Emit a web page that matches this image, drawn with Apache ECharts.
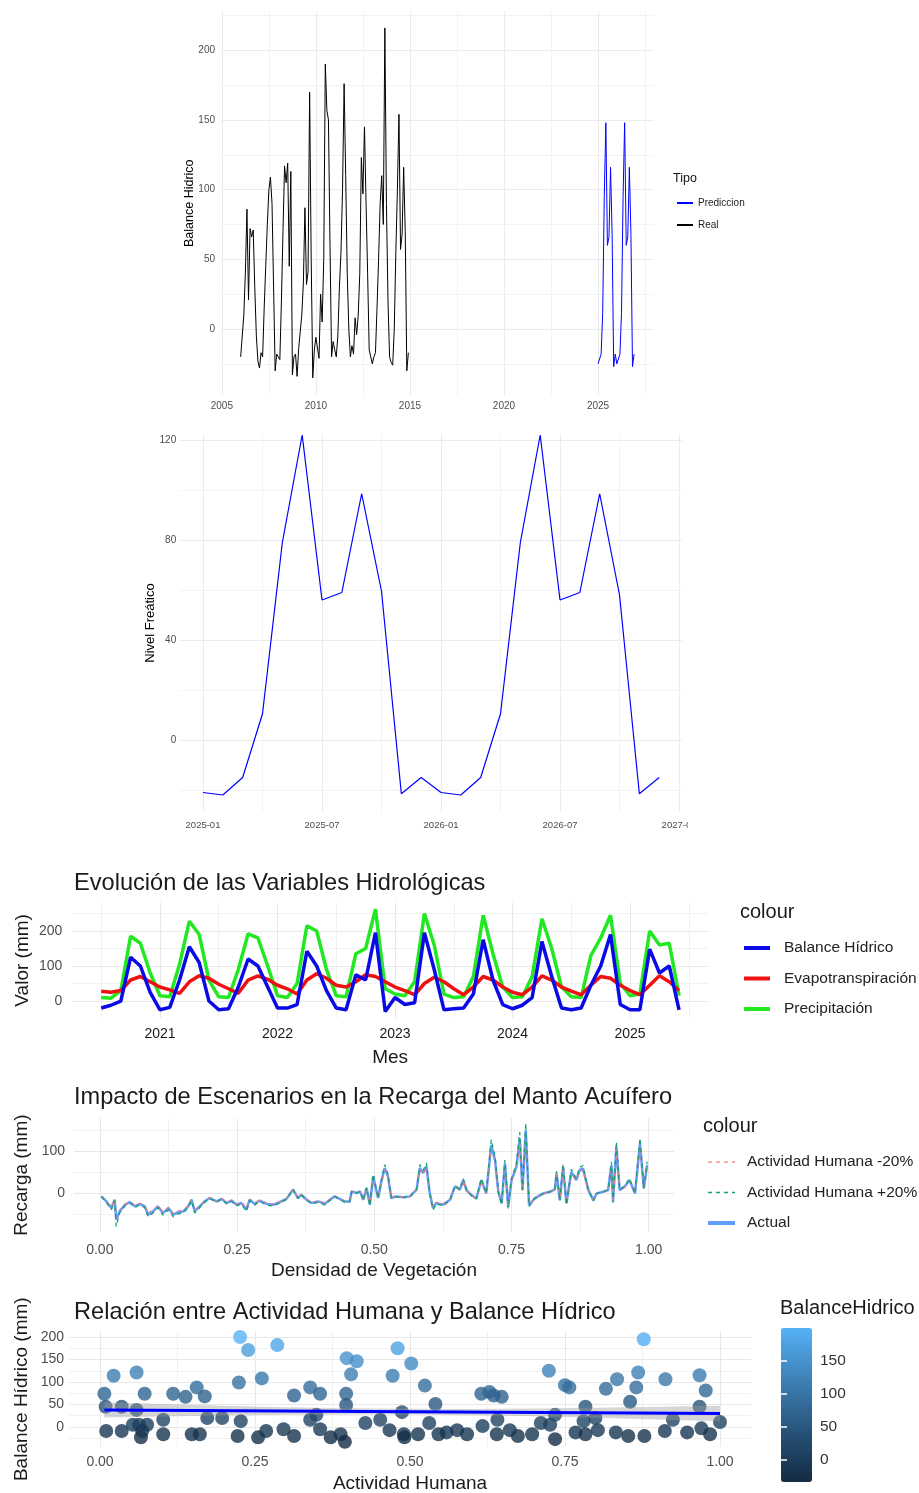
<!DOCTYPE html>
<html>
<head>
<meta charset="utf-8">
<script src="https://cdn.jsdelivr.net/npm/echarts@6/dist/echarts.min.js"></script>
<style>
  html, body { margin: 0; padding: 0; background: #fff; }
  #page { position: relative; width: 919px; height: 1493px; overflow: hidden; }
  .panel { position: absolute; left: 0; }
</style>
</head>
<body>
<div id="page">
  <div id="c1" class="panel" style="top:0;width:919px;height:420px"></div>
  <div id="c2" class="panel" style="top:420px;width:688px;height:420px"></div>
  <div id="c3" class="panel" style="top:840px;width:919px;height:235px"></div>
  <div id="c4" class="panel" style="top:1075px;width:919px;height:210px"></div>
  <div id="c5" class="panel" style="top:1285px;width:919px;height:208px"></div>
</div>
<script>
// ---------------- Datos ----------------

// Balance hídrico observado, mensual desde enero de 2006
const realInicio = 2006;
const balanceReal = [
  -20, -21, 10, 40, 86, 21, 72, 66, 71, 30, -5, -23,
  -28, -17, -20, 15, 45, 75, 100, 109, 90, 30, -30, -18,
  -20, -22, 20, 70, 117, 105, 119, 45, 113, -33, -20, -18,
  -34, -14, -15, 10, 33, 87, 32, 41, 170, 50, -35, -15,
  -6, -5, -21, 25, 5, 50, 190, 157, 150, 60, -20, -9,
  -15, -20, -5, 30, 55, 100, 176, 110, 40, 0, -20, -12,
  -18, 8, -4, 10, 40, 123, 97, 145, 90, 40, -15, -20,
  -25, -20, -17, 15, 50, 90, 110, 75, 216, 90, 20, -20,
  -24, -26, 0, 55, 100, 154, 57, 68, 116, 70, -30, -17
];
// Balance hídrico predicho, mensual desde enero de 2025
const predInicio = 2025;
const balancePred = [
  -25, -25, -18, 12, 95, 148, 60, 66, 116, 68, -27, -18,
  -25, -25, -18, 12, 95, 148, 60, 66, 116, 68, -27, -18
];
const ticksAnio = [2005, 2010, 2015, 2020, 2025];
const ticksAnioMenor = [2007.5, 2012.5, 2017.5, 2022.5, 2027.5];
const ticksBalance = [0, 50, 100, 150, 200];
const ticksBalanceMenor = [-25, 25, 75, 125, 175, 225];

// Nivel freático predicho, mensual 2025-01 .. 2026-12
const nivelFreatico = [
  -21, -22, -15, 10.5, 79, 122, 56, 59, 98.5, 59.5, -21.5, -15,
  -21, -22, -15, 10.5, 79, 122, 56, 59, 98.5, 58, -21.5, -15
];
const ticksMes = [0, 6, 12, 18, 24];
const ticksMesMenor = [3, 9, 15, 21];
const ticksNivel = [0, 40, 80, 120];
const ticksNivelMenor = [-20, 20, 60, 100];

// Variables hidrológicas mensuales desde julio de 2020
const evolInicio = 2020.5;
const precipitacion = [
  10, 8, 30, 185, 165, 80, 15, 12, 105, 228,
  190, 60, 12, 10, 90, 192, 180, 100, 15, 10,
  50, 215, 200, 90, 15, 12, 135, 150, 262, 35,
  20, 15, 55, 250, 160, 20, 10, 12, 70, 245,
  135, 40, 10, 12, 70, 235, 150, 40, 12, 10,
  130, 180, 245, 50, 15, 20, 200, 160, 165, 15
];
const balanceHidrico = [
  -20, -12, 0, 125, 100, 25, -25, -18, 60, 155,
  110, 0, -25, -22, 40, 120, 100, 40, -20, -20,
  -10, 142, 100, 30, -20, -25, 75, 60, 195, -30,
  10, -10, -5, 195, 90, -25, -22, -20, 20, 175,
  60, -10, -22, -12, 10, 170, 70, -20, -25, -20,
  45, 100, 190, -10, -25, -25, 148, 80, 100, -25
];
const evapotranspiracion = [
  28, 25, 30, 60, 70, 55, 40, 32, 22, 55,
  72, 65, 48, 35, 22, 60, 72, 62, 45, 35,
  20, 60, 78, 65, 45, 40, 55, 75, 70, 55,
  40, 30, 18, 50, 68, 55, 35, 18, 40, 70,
  60, 40, 25, 18, 40, 72, 60, 40, 28, 18,
  45, 70, 65, 45, 30, 18, 45, 72, 55, 30
];
const ticksEvolX = [2021, 2022, 2023, 2024, 2025];
const ticksEvolXMenor = [2020.5, 2021.5, 2022.5, 2023.5, 2024.5, 2025.5];
const ticksValor = [0, 100, 200];
const ticksValorMenor = [50, 150, 250];

// Recarga según densidad de vegetación y escenarios
const densidadVeg = [
  0.003, 0.012, 0.021, 0.027, 0.030, 0.036, 0.046, 0.055, 0.064, 0.073,
  0.082, 0.088, 0.097, 0.106, 0.115, 0.125, 0.134, 0.143, 0.152, 0.161,
  0.167, 0.173, 0.182, 0.191, 0.200, 0.213, 0.222, 0.231, 0.240, 0.249,
  0.258, 0.267, 0.273, 0.282, 0.291, 0.304, 0.316, 0.328, 0.340, 0.352,
  0.361, 0.367, 0.377, 0.386, 0.398, 0.410, 0.419, 0.428, 0.437, 0.446,
  0.455, 0.459, 0.468, 0.474, 0.480, 0.486, 0.492, 0.498, 0.507, 0.513,
  0.519, 0.525, 0.531, 0.540, 0.553, 0.565, 0.577, 0.583, 0.589, 0.595,
  0.601, 0.607, 0.613, 0.625, 0.638, 0.647, 0.656, 0.662, 0.668, 0.677,
  0.686, 0.695, 0.704, 0.713, 0.720, 0.726, 0.732, 0.738, 0.744, 0.750,
  0.759, 0.765, 0.770, 0.776, 0.782, 0.792, 0.808, 0.820, 0.829, 0.832,
  0.838, 0.844, 0.850, 0.859, 0.868, 0.874, 0.880, 0.890, 0.899, 0.905,
  0.917, 0.926, 0.932, 0.935, 0.941, 0.947, 0.956, 0.965, 0.975, 0.984,
  0.991, 0.997
];
const recargaActual = [
  -8, -20, -36, -16, -64, -44, -28, -22, -32, -26,
  -32, -52, -44, -32, -48, -36, -52, -46, -44, -32,
  -16, -44, -32, -20, -12, -20, -14, -24, -18, -28,
  -24, -40, -16, -26, -18, -26, -28, -22, -14, 8,
  -12, -4, -16, -24, -20, -26, -16, -8, -14, -20,
  -20, 4, 0, 4, -16, 12, -28, 40, -12, 28,
  60, 40, -12, -8, -10, -8, 8, 60, 48, 64,
  0, -36, -24, -28, -16, 16, 8, 31, 7, -5,
  -13, 31, -1, 115, 79, 3, -25, 71, -33, 31,
  63, 131, 7, 150, -29, -13, -1, 3, 9, 47,
  -17, 63, -25, 51, 31, 55, 59, 7, -17, -1,
  3, 7, 67, -21, 111, 7, 15, 31, -1, 119,
  11, 67
];
const recargaMenos20 = [
  -8, -19, -34, -15, -58, -42, -27, -21, -30, -25,
  -30, -48, -41, -30, -45, -34, -49, -43, -41, -30,
  -15, -41, -30, -19, -11, -19, -13, -22, -17, -26,
  -22, -37, -15, -24, -17, -24, -26, -20, -13, 8,
  -11, -4, -15, -22, -19, -24, -15, -8, -13, -19,
  -19, 4, 0, 4, -15, 11, -26, 37, -11, 26,
  56, 37, -11, -8, -9, -8, 7, 56, 45, 60,
  0, -33, -22, -26, -15, 15, 7, 29, 6, -5,
  -12, 29, -1, 107, 73, 3, -23, 66, -31, 29,
  59, 122, 6, 140, -27, -12, -1, 3, 8, 44,
  -16, 59, -23, 47, 29, 51, 55, 6, -16, -1,
  3, 6, 62, -20, 103, 6, 14, 29, -1, 111,
  10, 62
];
const recargaMas20 = [
  -9, -22, -40, -18, -80, -48, -30, -24, -35, -28,
  -35, -57, -48, -35, -53, -40, -57, -50, -48, -35,
  -18, -48, -35, -22, -13, -22, -15, -26, -20, -31,
  -26, -44, -18, -29, -20, -29, -31, -24, -15, 9,
  -13, -4, -18, -26, -22, -29, -18, -9, -15, -22,
  -22, 4, 0, 4, -18, 13, -31, 45, -13, 31,
  68, 45, -13, -9, -11, -9, 9, 68, 54, 72,
  0, -40, -26, -31, -18, 18, 9, 35, 8, -6,
  -14, 35, -1, 128, 88, 3, -28, 79, -37, 35,
  70, 146, 8, 167, -32, -14, -1, 3, 10, 52,
  -19, 70, -28, 57, 35, 61, 66, 8, -19, -1,
  3, 8, 75, -23, 123, 8, 17, 35, -1, 132,
  12, 75
];
const ticksFrac = [0, 0.25, 0.5, 0.75, 1];
const ticksFracMenor = [0.125, 0.375, 0.625, 0.875];
const ticksRecarga = [0, 100];
const ticksRecargaMenor = [-50, 50, 150];

// Actividad humana frente a balance hídrico
const actividadHumana = [
  0.007, 0.009, 0.010, 0.022, 0.035, 0.035, 0.053, 0.059, 0.059, 0.063,
  0.066, 0.072, 0.076, 0.068, 0.102, 0.102, 0.118, 0.138, 0.148, 0.161,
  0.156, 0.169, 0.173, 0.197, 0.224, 0.226, 0.239, 0.227, 0.222, 0.255,
  0.268, 0.261, 0.286, 0.296, 0.313, 0.313, 0.339, 0.355, 0.339, 0.349,
  0.355, 0.372, 0.388, 0.395, 0.397, 0.397, 0.398, 0.405, 0.414, 0.428,
  0.452, 0.467, 0.472, 0.480, 0.487, 0.490, 0.491, 0.502, 0.513, 0.524,
  0.531, 0.541, 0.546, 0.559, 0.576, 0.592, 0.615, 0.617, 0.628, 0.635,
  0.648, 0.640, 0.641, 0.661, 0.674, 0.697, 0.711, 0.724, 0.726, 0.734,
  0.734, 0.750, 0.757, 0.767, 0.780, 0.783, 0.783, 0.799, 0.803, 0.816,
  0.832, 0.834, 0.852, 0.855, 0.865, 0.868, 0.877, 0.878, 0.911, 0.912,
  0.924, 0.947, 0.967, 0.967, 0.970, 0.977, 0.984, 1.000
];
const balanceActividad = [
  74, 45, -9, 114, 45, -9, 5, 121, 38, 5,
  -23, 74, 5, -9, 16, -16, 74, 67, -16, -16,
  88, 68, 20, 20, 99, 200, 171, 13, -20, -23,
  -9, 108, 182, -5, -20, 70, 88, 74, 16, 27,
  -5, -23, -16, -33, 74, 49, 153, 117, 146, 9,
  16, -7, 114, 175, 33, -16, -23, 141, -16, 92,
  9, 51, -16, -12, -7, -16, 74, 2, 78, 70,
  67, -16, 16, -7, -20, -16, 9, 125, 5, 27,
  -27, 93, 88, -12, 13, 45, -16, 20, -7, 85,
  -12, 106, -20, 56, 88, 121, 195, -20, -9, 106,
  16, -12, 115, 45, -3, 81, -16, 11
];
// Ajuste lineal y su banda de confianza
const ajusteX = [0.007, 1.0];
const ajusteY = [38, 30];
const bandaX = [0.007, 0.1, 0.2, 0.3, 0.4, 0.5, 0.6, 0.7, 0.8, 0.9, 1.0];
const bandaInf = [20.9, 23.2, 25.4, 27.1, 27.8, 27.5, 26.2, 23.9, 20.6, 16.8, 13.0];
const bandaSup = [54.9, 51.2, 47.4, 44.1, 41.8, 40.5, 40.2, 40.9, 42.6, 44.8, 47.0];
const ticksBal5 = [0, 50, 100, 150, 200];
const ticksBal5Menor = [-25, 25, 75, 125, 175];
const ticksColorbar = [0, 50, 100, 150];

// ---------------- Estilo común ----------------
const FONT = '"Liberation Sans", Arial, sans-serif';
const LABEL_GREY = '#4D4D4D';

function pares(xs, ys) { return xs.map((x, i) => [x, ys[i]]); }
function mensual(inicio, ys) { return ys.map((y, i) => [inicio + i / 12, y]); }

// Eje principal (etiquetas + rejilla mayor) y eje secundario (rejilla menor)
function ejes(o) {
  const base = {
    type: 'value', min: o.min, max: o.max, gridIndex: o.grid || 0,
    axisLine: { show: false }
  };
  const mayor = Object.assign({}, base, {
    position: o.position,
    axisTick: { show: false, customValues: o.major },
    axisLabel: {
      customValues: o.major, formatter: o.fmt || (v => String(v)),
      fontSize: o.size, color: o.color || LABEL_GREY, margin: o.margin, fontFamily: FONT
    },
    splitLine: { show: true, lineStyle: { color: o.gridColor || '#EBEBEB', width: 1 } },
    name: o.name, nameLocation: 'middle', nameGap: o.nameGap, nameMoveOverlap: false,
    nameTextStyle: { fontSize: o.nameSize, color: o.nameColor || '#000', fontFamily: FONT }
  });
  const menor = Object.assign({}, base, {
    position: o.position,
    axisTick: { show: false, customValues: o.minor },
    axisLabel: { show: false },
    splitLine: { show: true, lineStyle: { color: o.minorColor || '#F3F3F3', width: 1 } }
  });
  return [mayor, menor];
}

function grid(left, top, right, bottom, divTop) {
  return { left: left, top: top - divTop, width: right - left, height: bottom - top,
           containLabel: false, outerBoundsMode: 'none' };
}

function linea(name, data, color, width, extra) {
  return Object.assign({
    name: name, type: 'line', data: data, symbol: 'none', showSymbol: false,
    color: color, lineStyle: { color: color, width: width }, z: 3
  }, extra || {});
}

// Leyenda de líneas: solo el trazo, sin marcador
function leyenda(o) {
  return Object.assign({
    orient: 'vertical', padding: 0, itemStyle: { opacity: 0 }
  }, o);
}

// ---------------- Panel 1: balance hídrico real y predicción ----------------
const c1 = echarts.init(document.getElementById('c1'));
c1.setOption({
  animation: false,
  textStyle: { fontFamily: FONT },
  title: [{ text: 'Tipo', left: 673, top: 172, padding: 0,
            textStyle: { fontSize: 12.5, fontWeight: 'normal', color: '#111', fontFamily: FONT } }],
  legend: leyenda({
    data: ['Prediccion', 'Real'], left: 676, top: 198,
    itemWidth: 16, itemHeight: 12, itemGap: 12,
    textStyle: { fontSize: 10, color: '#222', fontFamily: FONT }
  }),
  grid: grid(221, 11.2, 653.7, 395.2, 0),
  xAxis: ejes({ min: 2004.954, max: 2027.961, major: ticksAnio, minor: ticksAnioMenor,
                position: 'bottom', fmt: v => String(Math.round(v)), size: 10, margin: 6 }),
  yAxis: ejes({ min: -47.5, max: 228, major: ticksBalance, minor: ticksBalanceMenor,
                position: 'left', size: 10, margin: 6,
                name: 'Balance Hidrico', nameGap: 25, nameSize: 12.5 }),
  series: [
    linea('Prediccion', mensual(predInicio, balancePred), '#0000FF', 1),
    linea('Real', mensual(realInicio, balanceReal), '#000000', 1)
  ]
});

// ---------------- Panel 2: nivel freático ----------------
const etiquetaMes = m => {
  const y = 2025 + Math.floor(m / 12);
  const mm = (m % 12) + 1;
  return y + '-' + (mm < 10 ? '0' + mm : mm);
};
const c2 = echarts.init(document.getElementById('c2'));
c2.setOption({
  animation: false,
  textStyle: { fontFamily: FONT },
  grid: grid(180.2, 434, 682, 812, 420),
  xAxis: ejes({ min: -1.15, max: 24.15, major: ticksMes, minor: ticksMesMenor,
                position: 'bottom', fmt: etiquetaMes, size: 9.5, margin: 8 }),
  yAxis: ejes({ min: -28.8, max: 122.4, major: ticksNivel, minor: ticksNivelMenor,
                position: 'left', size: 10, margin: 4,
                name: 'Nivel Freático', nameGap: 23.5, nameSize: 13 }),
  series: [
    linea('Nivel', nivelFreatico.map((v, i) => [i, v]), '#0000FF', 1.2)
  ]
});

// ---------------- Panel 3: evolución de variables hidrológicas ----------------
const c3 = echarts.init(document.getElementById('c3'));
c3.setOption({
  animation: false,
  textStyle: { fontFamily: FONT },
  title: [
    { text: 'Evolución de las Variables Hidrológicas', left: 74, top: 31, padding: 0,
      textStyle: { fontSize: 23.6, fontWeight: 'normal', color: '#1A1A1A', fontFamily: FONT } },
    { text: 'colour', left: 740, top: 62, padding: 0,
      textStyle: { fontSize: 20, fontWeight: 'normal', color: '#1A1A1A', fontFamily: FONT } }
  ],
  legend: leyenda({
    data: [
      { name: 'Balance Hídrico', lineStyle: { width: 4 } },
      { name: 'Evapotranspiración', lineStyle: { width: 4 } },
      { name: 'Precipitación', lineStyle: { width: 4 } }
    ],
    left: 742, top: 100, itemWidth: 26, itemHeight: 20, itemGap: 14.5,
    lineStyle: { width: 4 },
    textStyle: { fontSize: 15.5, color: '#222', fontFamily: FONT, padding: [0, 0, 0, 9] }
  }),
  grid: grid(72.3, 902.6, 708, 1018.2, 840),
  xAxis: ejes({ min: 2020.254, max: 2025.663, major: ticksEvolX, minor: ticksEvolXMenor,
                position: 'bottom', fmt: v => String(Math.round(v)), size: 14, color: '#1A1A1A',
                margin: 9, name: 'Mes', nameGap: 30, nameSize: 19, nameColor: '#1A1A1A',
                gridColor: '#E8E8E8', minorColor: '#F1F1F1' }),
  yAxis: ejes({ min: -49, max: 281, major: ticksValor, minor: ticksValorMenor,
                position: 'left', size: 14, margin: 10,
                name: 'Valor (mm)', nameGap: 40.5, nameSize: 19, nameColor: '#1A1A1A',
                gridColor: '#E8E8E8', minorColor: '#F1F1F1' }),
  series: [
    linea('Precipitación', mensual(evolInicio, precipitacion), '#22E822', 3.5),
    linea('Evapotranspiración', mensual(evolInicio, evapotranspiracion), '#EE1111', 3.5),
    linea('Balance Hídrico', mensual(evolInicio, balanceHidrico), '#0A0AE6', 3.5)
  ]
});

// ---------------- Panel 4: recarga del manto acuífero ----------------
const c4 = echarts.init(document.getElementById('c4'));
c4.setOption({
  animation: false,
  textStyle: { fontFamily: FONT },
  title: [
    { text: 'Impacto de Escenarios en la Recarga del Manto Acuífero', left: 74, top: 10, padding: 0,
      textStyle: { fontSize: 23.6, fontWeight: 'normal', color: '#1A1A1A', fontFamily: FONT } },
    { text: 'colour', left: 703, top: 41, padding: 0,
      textStyle: { fontSize: 20, fontWeight: 'normal', color: '#1A1A1A', fontFamily: FONT } }
  ],
  legend: leyenda({
    data: [
      { name: 'Actividad Humana -20%', lineStyle: { width: 1.5 } },
      { name: 'Actividad Humana +20%', lineStyle: { width: 1.5 } },
      { name: 'Actual', lineStyle: { width: 4 } }
    ],
    left: 706, top: 79, itemWidth: 27, itemHeight: 20, itemGap: 14.5,
    textStyle: { fontSize: 15.5, color: '#222', fontFamily: FONT, padding: [0, 0, 0, 7] }
  }),
  grid: grid(74, 1118.2, 674, 1232, 1075),
  xAxis: ejes({ min: -0.047, max: 1.046, major: ticksFrac, minor: ticksFracMenor,
                position: 'bottom', fmt: v => v.toFixed(2), size: 14, margin: 11,
                name: 'Densidad de Vegetación', nameGap: 29.5, nameSize: 19, nameColor: '#1A1A1A',
                gridColor: '#E8E8E8', minorColor: '#F1F1F1' }),
  yAxis: ejes({ min: -93.4, max: 179.4, major: ticksRecarga, minor: ticksRecargaMenor,
                position: 'left', size: 14, margin: 9,
                name: 'Recarga (mm)', nameGap: 42.5, nameSize: 19, nameColor: '#1A1A1A',
                gridColor: '#E8E8E8', minorColor: '#F1F1F1' }),
  series: [
    linea('Actual', pares(densidadVeg, recargaActual), '#619CFF', 2.5),
    linea('Actividad Humana -20%', pares(densidadVeg, recargaMenos20), '#F8766D', 1.3,
          { lineStyle: { color: '#F8766D', width: 1.3, type: [4, 4], opacity: 0.8 } }),
    linea('Actividad Humana +20%', pares(densidadVeg, recargaMas20), '#00BA38', 1.3,
          { lineStyle: { color: '#14A06A', width: 1.3, type: [4, 4] } })
  ]
});

// ---------------- Panel 5: actividad humana vs balance hídrico ----------------
const c5 = echarts.init(document.getElementById('c5'));
const ejesP5x = ejes({ min: -0.05, max: 1.05, major: ticksFrac, minor: ticksFracMenor,
                position: 'bottom', fmt: v => v.toFixed(2), size: 14, margin: 9,
                name: 'Actividad Humana', nameGap: 28, nameSize: 19, nameColor: '#1A1A1A',
                gridColor: '#E8E8E8', minorColor: '#F1F1F1' });
const ejesP5y = ejes({ min: -43.6, max: 211.6, major: ticksBal5, minor: ticksBal5Menor,
                position: 'left', size: 14, margin: 5,
                name: 'Balance Hídrico (mm)', nameGap: 37.5, nameSize: 19, nameColor: '#1A1A1A',
                gridColor: '#E8E8E8', minorColor: '#F1F1F1' });
c5.setOption({
  animation: false,
  textStyle: { fontFamily: FONT },
  title: [
    { text: 'Relación entre Actividad Humana y Balance Hídrico', left: 74, top: 15, padding: 0,
      textStyle: { fontSize: 23.6, fontWeight: 'normal', color: '#1A1A1A', fontFamily: FONT } },
    { text: 'BalanceHidrico', left: 780, top: 13, padding: 0,
      textStyle: { fontSize: 20, fontWeight: 'normal', color: '#1A1A1A', fontFamily: FONT } }
  ],
  grid: [
    grid(69, 1331.8, 751, 1446.6, 1285),
    grid(781, 1328, 812, 1482, 1285)
  ],
  xAxis: ejesP5x.concat([{ gridIndex: 1, type: 'value', min: 0, max: 1, show: false }]),
  yAxis: ejesP5y.concat([
    { gridIndex: 1, type: 'value', min: -33, max: 200, position: 'right', z: 10,
      axisLine: { show: false },
      axisTick: { show: true, inside: true, length: 6, customValues: ticksColorbar,
                  lineStyle: { color: '#FFFFFF', width: 1.5 } },
      axisLabel: { customValues: ticksColorbar, fontSize: 15.5, color: '#333', margin: 8, fontFamily: FONT },
      splitLine: { show: false } },
    { gridIndex: 1, type: 'value', min: -33, max: 200, position: 'left', z: 10,
      axisLine: { show: false },
      axisTick: { show: true, inside: true, length: 6, customValues: ticksColorbar,
                  lineStyle: { color: '#FFFFFF', width: 1.5 } },
      axisLabel: { show: false }, splitLine: { show: false } }
  ]),
  visualMap: {
    type: 'continuous', min: -33, max: 200, dimension: 1, seriesIndex: 0,
    calculable: false, left: 781, top: 43, itemWidth: 31, itemHeight: 154, padding: 0,
    inRange: { color: ['#132B43', '#22496C', '#336A98', '#448DC6', '#56B1F7'] },
    textStyle: { color: 'transparent' }
  },
  series: [
    { name: 'Puntos', type: 'scatter', data: pares(actividadHumana, balanceActividad),
      symbolSize: 14, z: 2 },
    { name: 'Banda', type: 'custom', coordinateSystem: 'cartesian2d', silent: true, z: 3,
      clip: false, data: [[0.5, 30]],
      renderItem: (params, api) => {
        const arriba = bandaX.map((x, i) => api.coord([x, bandaSup[i]]));
        const abajo = bandaX.map((x, i) => api.coord([x, bandaInf[i]])).reverse();
        return { type: 'polygon', shape: { points: arriba.concat(abajo) },
                 style: { fill: 'rgba(153,153,153,0.4)' } };
      } },
    linea('Ajuste', pares(ajusteX, ajusteY), '#0000FF', 3, { z: 4 })
  ]
});
</script>
</body>
</html>
